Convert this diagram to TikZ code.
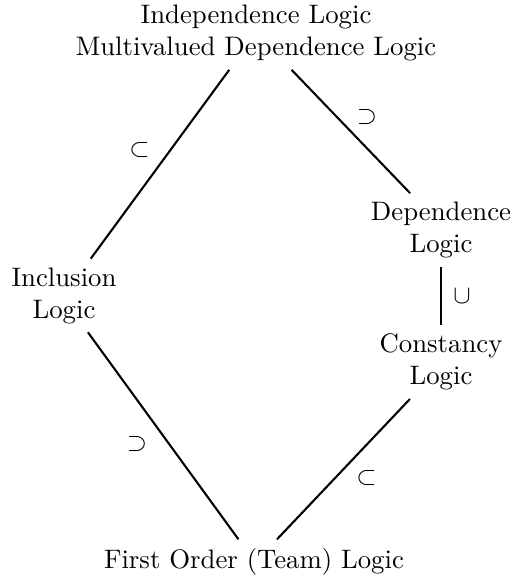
\documentclass[tikz,border=0pt]{standalone}
\begin{document}
\begin{tikzpicture}[x=0.385pt,y=-0.385pt,
  font=\fontsize{10.3pt}{12.3pt}\selectfont,
  logic/.style={align=center,inner sep=3.2pt},
  rel/.style={thick},
  lbl/.style={inner sep=0pt}]
\useasboundingbox (0,0) rectangle (514,580);
\node[logic] (top) at (256,33) {Independence Logic\\Multivalued Dependence Logic};
\node[logic] (dep) at (441,230) {Dependence\\Logic};
\node[logic] (incl) at (64,295.5) {Inclusion\\Logic};
\node[logic] (const) at (441,362) {Constancy\\Logic};
\node[logic] (fo) at (254,561.5) {First Order (Team) Logic};
\draw[rel] (top.234) -- node[lbl,pos=0.425,xshift=-11.9pt] {$\subset$} (incl.54);
\draw[rel] (top.314) -- node[lbl,pos=0.383,xshift=11.55pt] {$\supset$} (dep.130);
\draw[rel] (dep.south) -- node[lbl,midway,xshift=8.1pt] {$\cup$} (const.north);
\draw[rel] (incl.303.5) -- node[lbl,pos=0.538,xshift=-12.3pt] {$\supset$} (fo.125);
\draw[rel] (const.230) -- node[lbl,pos=0.56,xshift=11.9pt] {$\subset$} (fo.44);
\end{tikzpicture}
\end{document}
